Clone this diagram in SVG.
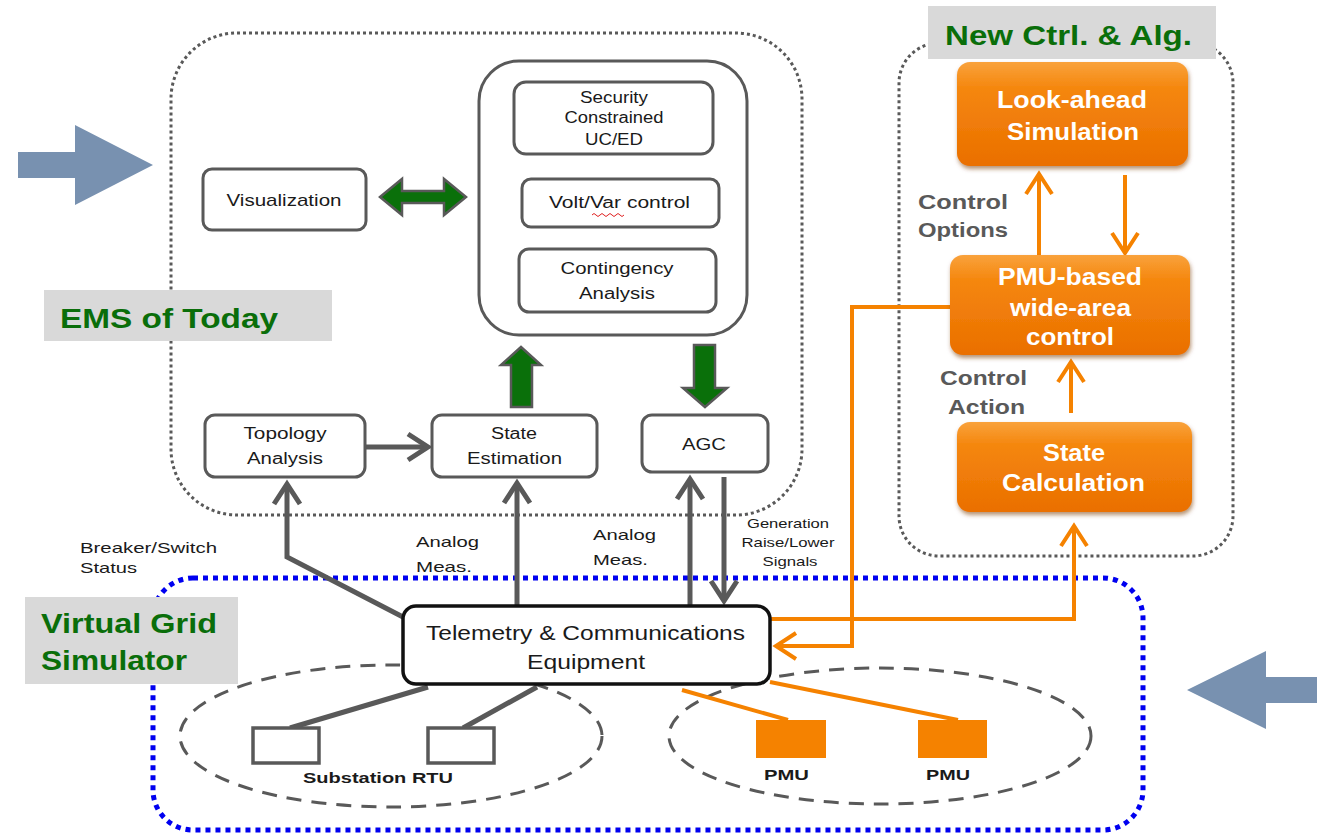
<svg xmlns="http://www.w3.org/2000/svg" width="1317" height="834" viewBox="0 0 1317 834">
  <style>
    .txt { font-family: "Liberation Sans", Arial, sans-serif; fill: #1a1a1a; }
    .box { fill: #ffffff; stroke: #595959; stroke-width: 3; }
    .title { font-family: "Liberation Sans", Arial, sans-serif; font-weight: bold; fill: #0a6e0a; font-size: 28px; }
    .label-bg { fill: #d9d9d9; }
    .orange-box { fill: url(#orangeGrad); filter: url(#shadow); }
    .otxt { font-family: "Liberation Sans", Arial, sans-serif; font-weight: bold; fill: #ffffff; font-size: 23px; text-anchor: middle; }
    .gtxt { font-family: "Liberation Sans", Arial, sans-serif; font-weight: bold; fill: #595959; font-size: 20px; }
    .gray-line { fill: none; stroke: #595959; stroke-width: 5; }
    .orange-line { fill: none; stroke: #f58200; stroke-width: 4; }
    .green-arrow { fill: #0a700a; stroke: #595959; stroke-width: 2.5; stroke-linejoin: miter; }
    .blue-arrow { fill: #7891b0; }
    .dashed-ellipse { fill: none; stroke: #595959; stroke-width: 3; stroke-dasharray: 15 10; }
  </style>
  <defs>
    <linearGradient id="orangeGrad" x1="0" y1="0" x2="0" y2="1">
      <stop offset="0" stop-color="#f9a23c"/>
      <stop offset="0.25" stop-color="#f5870e"/>
      <stop offset="1" stop-color="#ea6f00"/>
    </linearGradient>
    <filter id="shadow" x="-10%" y="-10%" width="125%" height="135%">
      <feDropShadow dx="1" dy="3" stdDeviation="2" flood-color="#7a3a00" flood-opacity="0.55"/>
    </filter>
    <marker id="chevGray" markerUnits="userSpaceOnUse" viewBox="-26 -16 32 32" refX="0" refY="0" markerWidth="32" markerHeight="32" orient="auto" overflow="visible">
      <path d="M-20,-13 L0,0 L-20,13" fill="none" stroke="#595959" stroke-width="5"/>
    </marker>
    <marker id="chevOrange" markerUnits="userSpaceOnUse" viewBox="-26 -16 32 32" refX="0" refY="0" markerWidth="32" markerHeight="32" orient="auto" overflow="visible">
      <path d="M-20,-13 L0,0 L-20,13" fill="none" stroke="#f58200" stroke-width="4"/>
    </marker>
  </defs>

  <rect width="1317" height="834" fill="#ffffff"/>

  <!-- containers -->
  <g id="containers">
    <rect id="ems-frame" x="171" y="33" width="631" height="482" rx="66" ry="66" fill="none" stroke="#595959" stroke-width="3" stroke-dasharray="3 3"/>
    <rect id="new-ctrl-frame" x="899" y="43" width="334" height="513" rx="40" ry="40" fill="none" stroke="#595959" stroke-width="3" stroke-dasharray="3 3"/>
    <rect id="grid-frame" x="153" y="578" width="990" height="252" rx="40" ry="40" fill="none" stroke="#0000f0" stroke-width="5" stroke-dasharray="5 5"/>
    <ellipse id="rtu-zone" cx="391" cy="736" rx="211" ry="71" class="dashed-ellipse"/>
    <ellipse id="pmu-zone" cx="880" cy="736" rx="211" ry="68" class="dashed-ellipse"/>
  </g>

  <!-- side arrows -->
  <path id="arrow-in-left" class="blue-arrow" d="M18,152 H75 V125 L153,165 L75,205 V178 H18 Z"/>
  <path id="arrow-in-right" class="blue-arrow" d="M1317,677 H1266 V651 L1187,690 L1266,729 V703 H1317 Z"/>

  <!-- section labels -->
  <g id="label-ems">
    <rect class="label-bg" x="44" y="290" width="288" height="51"/>
    <text class="title" x="60" y="328" textLength="218" lengthAdjust="spacingAndGlyphs">EMS of  Today</text>
  </g>
  <g id="label-grid">
    <rect class="label-bg" x="25" y="597" width="213" height="87"/>
    <text class="title" x="41" y="633" textLength="176" lengthAdjust="spacingAndGlyphs">Virtual Grid</text>
    <text class="title" x="41" y="670" textLength="146" lengthAdjust="spacingAndGlyphs">Simulator</text>
  </g>
  <g id="label-new">
    <rect class="label-bg" x="928" y="6" width="288" height="53"/>
    <text class="title" x="945" y="45" textLength="247" lengthAdjust="spacingAndGlyphs">New Ctrl. &amp; Alg.</text>
  </g>

  <!-- connectors -->
  <g id="connectors">
    <path class="gray-line" d="M366,447 H428" marker-end="url(#chevGray)"/>
    <path class="gray-line" stroke-width="5.5" d="M403,617 L287,557 V484" marker-end="url(#chevGray)"/>
    <path class="gray-line" d="M517,606 V483" marker-end="url(#chevGray)"/>
    <path class="gray-line" d="M690,606 V479" marker-end="url(#chevGray)"/>
    <path class="gray-line" d="M724,477 V601" marker-end="url(#chevGray)"/>
    <path class="gray-line" d="M428,687 L290,728"/>
    <path class="gray-line" d="M537,687 L463,728"/>

    <path class="green-arrow" d="M380,197 L402,179 L402,191 L444,191 L444,179 L466,197 L444,215 L444,203 L402,203 L402,215 Z"/>
    <path class="green-arrow" d="M521,347 L541,365 L532,365 L532,407 L511,407 L511,365 L501,365 Z"/>
    <path class="green-arrow" d="M705,407 L727,388 L715,388 L715,345 L694,345 L694,388 L683,388 Z"/>

    <path class="orange-line" d="M950,307 H852 V646 H776" marker-end="url(#chevOrange)"/>
    <path class="orange-line" d="M770,619 H1074 V526" marker-end="url(#chevOrange)"/>
    <path class="orange-line" d="M1071,413 V362" marker-end="url(#chevOrange)"/>
    <path class="orange-line" d="M1039,255 V174" marker-end="url(#chevOrange)"/>
    <path class="orange-line" d="M1125,175 V253" marker-end="url(#chevOrange)"/>
    <path class="orange-line" d="M682,690 L788,720"/>
    <path class="orange-line" d="M770,682 L958,720"/>

    <text class="txt" font-size="15" x="80" y="553" textLength="137" lengthAdjust="spacingAndGlyphs">Breaker/Switch</text>
    <text class="txt" font-size="15" x="80" y="573" textLength="57" lengthAdjust="spacingAndGlyphs">Status</text>
    <text class="txt" font-size="15" x="416" y="547" textLength="63" lengthAdjust="spacingAndGlyphs">Analog</text>
    <text class="txt" font-size="15" x="416" y="572" textLength="56" lengthAdjust="spacingAndGlyphs">Meas.</text>
    <text class="txt" font-size="15" x="593" y="540" textLength="63" lengthAdjust="spacingAndGlyphs">Analog</text>
    <text class="txt" font-size="15" x="593" y="565" textLength="55" lengthAdjust="spacingAndGlyphs">Meas.</text>
    <text class="txt" font-size="13" x="788" y="528" text-anchor="middle" textLength="82" lengthAdjust="spacingAndGlyphs">Generation</text>
    <text class="txt" font-size="13" x="788" y="547" text-anchor="middle" textLength="93" lengthAdjust="spacingAndGlyphs">Raise/Lower</text>
    <text class="txt" font-size="13" x="790" y="566" text-anchor="middle" textLength="55" lengthAdjust="spacingAndGlyphs">Signals</text>

    <text class="gtxt" x="918" y="209" textLength="90" lengthAdjust="spacingAndGlyphs">Control</text>
    <text class="gtxt" x="918" y="237" textLength="90" lengthAdjust="spacingAndGlyphs">Options</text>
    <text class="gtxt" x="940" y="385" textLength="87" lengthAdjust="spacingAndGlyphs">Control</text>
    <text class="gtxt" x="948" y="414" textLength="77" lengthAdjust="spacingAndGlyphs">Action</text>
  </g>

  <!-- EMS nodes -->
  <g id="visualization">
    <rect class="box" x="203" y="169" width="163" height="61" rx="9"/>
    <text class="txt" font-size="17" x="284" y="206" text-anchor="middle" textLength="115" lengthAdjust="spacingAndGlyphs">Visualization</text>
  </g>
  <g id="applications">
    <rect class="box" x="479" y="61" width="268" height="274" rx="40"/>
  </g>
  <g id="sc-uced">
    <rect class="box" x="514" y="82" width="199" height="72" rx="12"/>
    <text class="txt" font-size="16" x="614" y="103" text-anchor="middle" textLength="68" lengthAdjust="spacingAndGlyphs">Security</text>
    <text class="txt" font-size="16" x="614" y="123" text-anchor="middle" textLength="99" lengthAdjust="spacingAndGlyphs">Constrained</text>
    <text class="txt" font-size="16" x="614" y="145" text-anchor="middle" textLength="58" lengthAdjust="spacingAndGlyphs">UC/ED</text>
  </g>
  <g id="volt-var">
    <rect class="box" x="522" y="179" width="197" height="48" rx="9"/>
    <text class="txt" font-size="16" x="619.5" y="208" text-anchor="middle" textLength="141" lengthAdjust="spacingAndGlyphs">Volt/Var control</text>
    <path d="M592,215 q2,-3 4,0 t4,0 t4,0 t4,0 t4,0 t4,0 t4,0 t4,0" fill="none" stroke="#e02020" stroke-width="1"/>
  </g>
  <g id="contingency">
    <rect class="box" x="519" y="249" width="197" height="63" rx="10"/>
    <text class="txt" font-size="16" x="617" y="274" text-anchor="middle" textLength="113" lengthAdjust="spacingAndGlyphs">Contingency</text>
    <text class="txt" font-size="16" x="617" y="299" text-anchor="middle" textLength="76" lengthAdjust="spacingAndGlyphs">Analysis</text>
  </g>
  <g id="topology">
    <rect class="box" x="205" y="415" width="160" height="62" rx="10"/>
    <text class="txt" font-size="16" x="285" y="439" text-anchor="middle" textLength="83" lengthAdjust="spacingAndGlyphs">Topology</text>
    <text class="txt" font-size="16" x="285" y="464" text-anchor="middle" textLength="76" lengthAdjust="spacingAndGlyphs">Analysis</text>
  </g>
  <g id="state-estimation">
    <rect class="box" x="432" y="415" width="165" height="62" rx="10"/>
    <text class="txt" font-size="16" x="514" y="439" text-anchor="middle" textLength="46" lengthAdjust="spacingAndGlyphs">State</text>
    <text class="txt" font-size="16" x="514.5" y="464" text-anchor="middle" textLength="95" lengthAdjust="spacingAndGlyphs">Estimation</text>
  </g>
  <g id="agc">
    <rect class="box" x="642" y="415" width="126" height="57" rx="10"/>
    <text class="txt" font-size="16" x="704" y="450" text-anchor="middle" textLength="44" lengthAdjust="spacingAndGlyphs">AGC</text>
  </g>

  <!-- grid nodes -->
  <g id="telemetry">
    <rect x="403" y="606" width="367" height="78" rx="13" fill="#ffffff" stroke="#111111" stroke-width="3.5"/>
    <text class="txt" font-size="20" x="585.5" y="640" text-anchor="middle" textLength="319" lengthAdjust="spacingAndGlyphs">Telemetry &amp; Communications</text>
    <text class="txt" font-size="20" x="586" y="669" text-anchor="middle" textLength="118" lengthAdjust="spacingAndGlyphs">Equipment</text>
  </g>
  <g id="rtu-1">
    <rect x="253" y="728" width="66" height="35" fill="#ffffff" stroke="#595959" stroke-width="3.5"/>
  </g>
  <g id="rtu-2">
    <rect x="428" y="728" width="66" height="35" fill="#ffffff" stroke="#595959" stroke-width="3.5"/>
  </g>
  <text id="rtu-label" class="txt" font-size="15" font-weight="bold" x="378" y="783" text-anchor="middle" textLength="150" lengthAdjust="spacingAndGlyphs">Substation RTU</text>
  <g id="pmu-1">
    <rect x="756" y="720" width="70" height="38" fill="#f58200"/>
    <text class="txt" font-size="15" font-weight="bold" x="786.5" y="780" text-anchor="middle" textLength="45" lengthAdjust="spacingAndGlyphs">PMU</text>
  </g>
  <g id="pmu-2">
    <rect x="918" y="720" width="69" height="38" fill="#f58200"/>
    <text class="txt" font-size="15" font-weight="bold" x="948" y="780" text-anchor="middle" textLength="44" lengthAdjust="spacingAndGlyphs">PMU</text>
  </g>

  <!-- new control nodes -->
  <g id="look-ahead">
    <rect class="orange-box" x="957" y="62" width="231" height="104" rx="13"/>
    <text class="otxt" x="1072" y="108" textLength="150" lengthAdjust="spacingAndGlyphs">Look-ahead</text>
    <text class="otxt" x="1073" y="140" textLength="132" lengthAdjust="spacingAndGlyphs">Simulation</text>
  </g>
  <g id="pmu-wac">
    <rect class="orange-box" x="950" y="255" width="240" height="100" rx="13"/>
    <text class="otxt" x="1070" y="285" textLength="144" lengthAdjust="spacingAndGlyphs">PMU-based</text>
    <text class="otxt" x="1070.5" y="316" textLength="121" lengthAdjust="spacingAndGlyphs">wide-area</text>
    <text class="otxt" x="1070" y="345" textLength="88" lengthAdjust="spacingAndGlyphs">control</text>
  </g>
  <g id="state-calc">
    <rect class="orange-box" x="957" y="422" width="235" height="90" rx="13"/>
    <text class="otxt" x="1074" y="461" textLength="62" lengthAdjust="spacingAndGlyphs">State</text>
    <text class="otxt" x="1073.5" y="491" textLength="143" lengthAdjust="spacingAndGlyphs">Calculation</text>
  </g>
</svg>
